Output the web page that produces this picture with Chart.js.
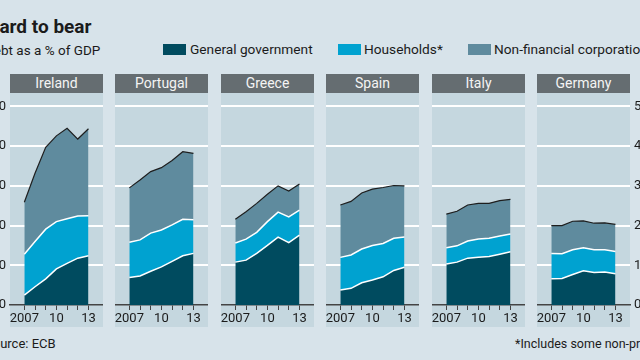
<!DOCTYPE html>
<html>
<head>
<meta charset="utf-8">
<script src="https://cdn.jsdelivr.net/npm/chart.js@4"></script>
<style>
  body { margin: 0; width: 640px; height: 360px; background: #d7e3ea; overflow: hidden; position: relative;
         font-family: Roboto, "Noto Sans", sans-serif; color: #1b1b1b; }
  .txt { position: absolute; white-space: nowrap; }
  .panel { position: absolute; top: 74px; height: 253px; width: 93px; background: #c5d7df; }
  .head { height: 19px; background: #656d71; color: #f4f4f4; font-size: 14px; line-height: 19px; text-align: center; }
  .sw { position: absolute; top: 44px; width: 23px; height: 11px; }
  canvas { position: absolute; top: 93px; }
</style>
</head>
<body>
<div class="txt" style="left:-14px;top:15px;font-size:19px;font-weight:bold;">Hard to bear</div>
<div class="txt" style="left:-15px;top:42px;font-size:13.5px;">Debt as a % of GDP</div>

<div class="sw" style="left:163px;background:#004b5f"></div>
<div class="txt" style="left:190px;top:41px;font-size:13.7px;">General government</div>
<div class="sw" style="left:338px;background:#00a2d0"></div>
<div class="txt" style="left:364px;top:41px;font-size:13.7px;">Households*</div>
<div class="sw" style="left:468px;background:#5f8b9e"></div>
<div class="txt" style="left:494px;top:41px;font-size:13.7px;">Non-financial corporations</div>

<div class="txt" style="left:-15px;top:336px;font-size:13px;">Source: ECB</div>
<div class="txt" style="left:515px;top:336px;font-size:12.5px;">*Includes some non-profit institutions</div>

<script>
const years = [2007, 2008, 2009, 2010, 2011, 2012, 2013];
const yTicks = [0, 100, 200, 300, 400, 500];
const countries = ['Ireland', 'Portugal', 'Greece', 'Spain', 'Italy', 'Germany'];

// debt as % of GDP, by sector
const irelandGov   = [25, 46, 66, 91, 105, 118, 124];
const irelandHouse = [103, 114, 125, 119, 112, 106, 101];
const irelandCorp  = [131, 172, 206, 216, 228, 194, 219];

const portugalGov   = [69, 73, 85, 96, 110, 124, 130];
const portugalHouse = [89, 91, 96, 93, 92, 92, 85];
const portugalCorp  = [137, 151, 155, 157, 162, 170, 167];

const greeceGov   = [108, 113, 130, 150, 171, 157, 176];
const greeceHouse = [48, 53, 53, 60, 63, 65, 63];
const greeceCorp  = [60, 69, 73, 69, 66, 65, 66];

const spainGov   = [38, 42, 56, 63, 71, 87, 95];
const spainHouse = [82, 84, 85, 87, 84, 81, 76];
const spainCorp  = [132, 135, 141, 142, 141, 133, 129];

const italyGov   = [103, 108, 118, 120, 122, 128, 134];
const italyHouse = [41, 41, 43, 46, 46, 46, 45];
const italyCorp  = [85, 87, 91, 90, 88, 89, 87];

const germanyGov   = [66, 67, 77, 86, 82, 83, 79];
const germanyHouse = [64, 62, 62, 58, 57, 56, 56];
const germanyCorp  = [70, 71, 72, 68, 67, 68, 68];

const series = [
  [irelandGov, irelandHouse, irelandCorp],
  [portugalGov, portugalHouse, portugalCorp],
  [greeceGov, greeceHouse, greeceCorp],
  [spainGov, spainHouse, spainCorp],
  [italyGov, italyHouse, italyCorp],
  [germanyGov, germanyHouse, germanyCorp]
];

const font = { family: 'Roboto', size: 13 };
const AXW = 40;

function pts(arr) {
  return years.map((y, k) => ({ x: y, y: arr[k] }));
}

countries.forEach((name, i) => {
  const left = Math.round(10 + i * 105.4);
  const panel = document.createElement('div');
  panel.className = 'panel';
  panel.style.left = left + 'px';
  panel.innerHTML = '<div class="head">' + name + '</div>';
  document.body.appendChild(panel);

  const axisSide = i === 0 ? 'left' : (i === 5 ? 'right' : null);
  const cv = document.createElement('canvas');
  cv.width = 93 + (axisSide ? AXW : 0);
  cv.height = 234;
  cv.style.left = (axisSide === 'left' ? left - AXW : left) + 'px';
  document.body.appendChild(cv);

  const [gov, house, corp] = series[i];
  new Chart(cv, {
    type: 'line',
    data: {
      datasets: [
        { label: 'General government', data: pts(gov), fill: 'origin',
          backgroundColor: '#004b5f', borderColor: '#ffffff', borderWidth: 1.5 },
        { label: 'Households*', data: pts(house), fill: '-1',
          backgroundColor: '#00a2d0', borderColor: '#ffffff', borderWidth: 1.5 },
        { label: 'Non-financial corporations', data: pts(corp), fill: '-1',
          backgroundColor: '#5f8b9e', borderColor: '#1e1e1e', borderWidth: 1.2 }
      ]
    },
    options: {
      responsive: false,
      animation: false,
      events: [],
      layout: { padding: 0 },
      elements: { point: { radius: 0 }, line: { tension: 0 } },
      plugins: { legend: { display: false }, tooltip: { enabled: false } },
      scales: {
        x: {
          type: 'linear', min: 2005.66, max: 2014.36, z: 1,
          afterBuildTicks: s => { s.ticks = years.map(v => ({ value: v })); },
          afterFit: s => { s.height = 22; s.paddingLeft = 0; s.paddingRight = 0; },
          ticks: {
            autoSkip: false, maxRotation: 0, padding: 1, color: '#1b1b1b', font,
            callback: v => v === 2007 ? '2007' : v === 2010 ? '10' : v === 2013 ? '13' : ''
          },
          grid: { drawOnChartArea: false, drawTicks: true, tickLength: 5, color: '#444', lineWidth: 1 },
          border: { display: true, color: '#444', width: 1.5 }
        },
        y: {
          stacked: true, min: 0, max: 534,
          position: axisSide || 'left',
          afterBuildTicks: s => { s.ticks = yTicks.map(v => ({ value: v })); },
          afterFit: s => { s.width = axisSide ? AXW : 0; s.paddingTop = 0; s.paddingBottom = 0; },
          ticks: { display: !!axisSide, padding: 4, color: '#1b1b1b', font },
          grid: { drawTicks: false, lineWidth: 2,
                  color: c => c.tick && c.tick.value === 0 ? 'rgba(0,0,0,0)' : '#ffffff' },
          border: { display: false }
        }
      }
    }
  });
});
</script>
</body>
</html>
